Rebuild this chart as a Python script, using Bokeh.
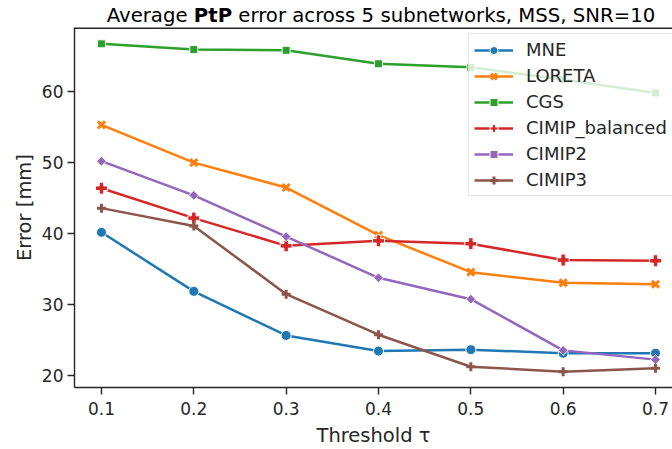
from bokeh.plotting import figure
from bokeh.models import (Legend, LegendItem, FixedTicker, Span, Div,
                          Range1d, ColumnDataSource)
from bokeh.layouts import column
from bokeh.embed import file_html
from bokeh.resources import INLINE

# ---- data ----
thresholds = [0.1, 0.2, 0.3, 0.4, 0.5, 0.6, 0.7]
series_names = ["MNE", "LORETA", "CGS", "CIMIP_balanced", "CIMIP2", "CIMIP3"]
mne = [40.2, 31.9, 25.7, 23.5, 23.7, 23.2, 23.2]
loreta = [55.3, 50.0, 46.5, 39.8, 34.6, 33.1, 32.9]
cgs = [66.7, 65.9, 65.8, 63.9, 63.4, 61.7, 59.8]
cimip_balanced = [46.4, 42.2, 38.3, 39.0, 38.6, 36.3, 36.2]
cimip2 = [50.2, 45.4, 39.6, 33.8, 30.8, 23.6, 22.3]
cimip3 = [43.6, 41.1, 31.5, 25.8, 21.3, 20.6, 21.1]
x_ticks = [0.1, 0.2, 0.3, 0.4, 0.5, 0.6, 0.7]
y_ticks = [20, 30, 40, 50, 60]

values = [mne, loreta, cgs, cimip_balanced, cimip2, cimip3]
colors = ["#1f77b4", "#ff7f0e", "#2ca02c", "#d62728", "#9467bd", "#8c564b"]
# (marker, size, angle, filled)
marker_styles = [
    ("circle", 10, 0.0, True),
    ("x", 10, 0.0, False),
    ("square", 8, 0.0, True),
    ("plus", 12, 0.0, True),
    ("square", 7, 0.785398, True),
    ("cross", 9, 0.0, False),
]

FONT = "DejaVu Sans"
DARK = "#262626"

y_lo, y_hi = 18.38, 69.0
p = figure(width=672, height=422, output_backend="svg", toolbar_location=None,
           x_range=Range1d(0.0708, 0.7184), y_range=Range1d(y_lo, y_hi),
           min_border_left=74, min_border_right=0, min_border_top=0,
           min_border_bottom=60, margin=(0, 0, 0, 0))
p.outline_line_color = None
p.xgrid.grid_line_color = None
p.ygrid.grid_line_color = None
p.background_fill_color = "white"
p.border_fill_color = "white"

for ax in (p.xaxis[0], p.yaxis[0]):
    ax.axis_line_color = DARK
    ax.axis_line_width = 1.4
    ax.major_tick_line_color = DARK
    ax.major_tick_line_width = 1.4
    ax.major_tick_out = 7
    ax.major_tick_in = 0
    ax.minor_tick_line_color = None
    ax.major_label_text_font = FONT
    ax.major_label_text_font_size = "17px"
    ax.major_label_text_color = DARK
    ax.axis_label_text_font = FONT
    ax.axis_label_text_font_size = "19.5px"
    ax.axis_label_text_font_style = "normal"
    ax.axis_label_text_color = DARK

p.xaxis.ticker = FixedTicker(ticks=x_ticks)
p.yaxis.ticker = FixedTicker(ticks=y_ticks)
p.xaxis.axis_label = "Threshold τ"
p.yaxis.axis_label = "Error [mm]"
p.xaxis.major_label_standoff = 7
p.xaxis.axis_label_standoff = 6
p.yaxis.major_label_standoff = 4
p.yaxis.axis_label_standoff = 3

# top spine (frame edge)
p.add_layout(Span(location=y_hi, dimension="width", line_color=DARK,
                  line_width=2.8))

items = []
for name, vals, color, (mk, size, angle, filled) in zip(series_names, values,
                                                          colors, marker_styles):
    src = ColumnDataSource(dict(x=thresholds, y=vals))
    lr = p.line("x", "y", source=src, line_color=color, line_width=2.5)
    if filled:
        sr = p.scatter("x", "y", source=src, marker=mk, size=size, angle=angle,
                       fill_color=color, line_color="white", line_width=1)
    else:
        sr = p.scatter("x", "y", source=src, marker=mk, size=size, angle=angle,
                       line_color=color, line_width=3)
    items.append(LegendItem(label=name, renderers=[lr, sr]))

legend = Legend(items=items, location=(394, 191), orientation="vertical",
                label_text_font=FONT, label_text_font_size="18px",
                label_text_color=DARK, glyph_width=39, glyph_height=20,
                label_height=20, spacing=5, padding=5, margin=0,
                label_standoff=13, background_fill_color="white",
                background_fill_alpha=0.8, border_line_color="#cccccc",
                border_line_width=1)
p.add_layout(legend, "center")

# title with bold "PtP"
title_div = Div(
    text="Average <b>PtP</b> error across 5 subnetworks, MSS, SNR=10",
    width=672, height=27, margin=(0, 0, 0, 0),
    styles={"font-family": "'DejaVu Sans'", "font-size": "19.7px",
            "color": "black", "text-align": "center",
            "padding-left": "90px", "box-sizing": "border-box",
            "line-height": "31px", "white-space": "nowrap",
            "overflow": "visible"})

layout = column(title_div, p, spacing=0, margin=(0, 0, 0, 0))

open("out.html", "w").write(file_html(layout, INLINE))
